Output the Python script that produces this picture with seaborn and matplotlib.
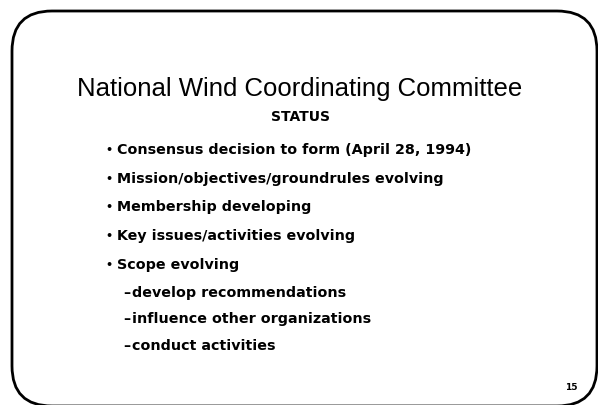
import matplotlib
matplotlib.use("Agg")
import matplotlib.pyplot as plt
import seaborn as sns
from matplotlib.patches import FancyBboxPatch

# Slide content
title = "National Wind Coordinating Committee"
subtitle = "STATUS"
bullets = [
    "Consensus decision to form (April 28, 1994)",
    "Mission/objectives/groundrules evolving",
    "Membership developing",
    "Key issues/activities evolving",
    "Scope evolving",
]
sub_items = [
    "develop recommendations",
    "influence other organizations",
    "conduct activities",
]
page_number = "15"

sns.set_theme(style="white")
plt.rcParams['font.family'] = ['Liberation Sans', 'DejaVu Sans']

W, H = 598, 406
fig = plt.figure(figsize=(W / 100, H / 100), dpi=100)
ax = fig.add_axes([0, 0, 1, 1])
ax.set_xlim(0, W)
ax.set_ylim(H, 0)
ax.axis('off')

# rounded slide frame
frame = FancyBboxPatch((12, 12), 585, 395,
                       boxstyle="round,pad=0,rounding_size=40",
                       fill=False, edgecolor='black', linewidth=2,
                       clip_on=False)
ax.add_patch(frame)

bold = dict(family=['DejaVu Sans'], fontweight='bold', color='black')

ax.text(300, 89, title, ha='center', va='center', fontsize=18.5, color='black')
ax.text(300, 117, subtitle, ha='center', va='center', fontsize=10, **bold)

y = 150
for b in bullets:
    ax.text(105, y, "•", ha='left', va='center', fontsize=8, **bold)
    ax.text(117, y, b, ha='left', va='center', fontsize=10.3, **bold)
    y += 28.7

y = 293
for s in sub_items:
    ax.text(123, y, "\u2013", ha='left', va='center', fontsize=10.3, **bold)
    ax.text(132, y, s, ha='left', va='center', fontsize=10.3, **bold)
    y += 26.5

ax.text(571, 388, page_number, ha='center', va='center', fontsize=6.5, **bold)

fig.savefig("out.png", dpi=100, facecolor='white')
